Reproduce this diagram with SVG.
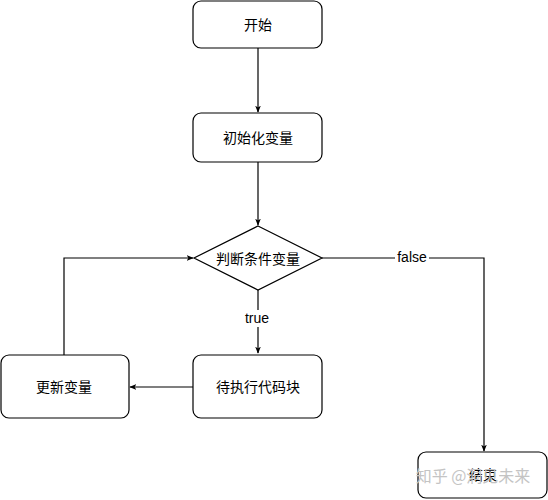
<svg xmlns="http://www.w3.org/2000/svg" width="548" height="500" viewBox="0 0 548 500">
<style>
.box{fill:#fff;stroke:#000;stroke-width:1.2}
.lbl{font-family:"Noto Sans CJK SC","Liberation Sans",sans-serif;font-size:14px;fill:#000;text-anchor:middle;dominant-baseline:central}
.edge{fill:none;stroke:#000;stroke-width:1.2}
.elbl{font-family:"Liberation Sans","Noto Sans CJK SC",sans-serif;font-size:14px;fill:#000;text-anchor:middle;dominant-baseline:central}
.wm{font-family:"Noto Sans CJK SC",sans-serif;font-size:16px;fill:#c4c4c4;text-anchor:middle;dominant-baseline:central}
</style>
<defs>
<marker id="arr" viewBox="0 0 10 10" refX="9" refY="5" markerWidth="7" markerHeight="7" orient="auto" markerUnits="userSpaceOnUse">
<path d="M0,1 L10,5 L0,9 L2.5,5 Z" fill="#000"/>
</marker>
</defs>
<rect width="548" height="500" fill="#fff"/>
<g id="connectors">
<path class="edge" d="M258,48 V112" marker-end="url(#arr)"/>
<path class="edge" d="M258,162 V225" marker-end="url(#arr)"/>
<path class="edge" d="M258,290 V353" marker-end="url(#arr)"/>
<path class="edge" d="M193,387 H130" marker-end="url(#arr)"/>
<path class="edge" d="M64,355 V258 H193" marker-end="url(#arr)"/>
<path class="edge" d="M322,258 H484 V451" marker-end="url(#arr)"/>
<rect x="243" y="310" width="30" height="17" fill="#fff"/>
<text class="elbl" x="257" y="318">true</text>
<rect x="395" y="249" width="34" height="17" fill="#fff"/>
<text class="elbl" x="412" y="257">false</text>
</g>
<g id="start">
<rect class="box" x="193" y="1" width="129" height="47" rx="8"/>
<text class="lbl" x="258" y="24">开始</text>
</g>
<g id="init">
<rect class="box" x="193" y="113" width="129" height="49" rx="8"/>
<text class="lbl" x="258" y="137">初始化变量</text>
</g>
<g id="cond">
<polygon class="box" points="258,226 322,258 258,290 194,258"/>
<text class="lbl" x="258" y="258">判断条件变量</text>
</g>
<g id="exec">
<rect class="box" x="193" y="355" width="129" height="63" rx="8"/>
<text class="lbl" x="258" y="386">待执行代码块</text>
</g>
<g id="update">
<rect class="box" x="1" y="355" width="128" height="63" rx="8"/>
<text class="lbl" x="64" y="386">更新变量</text>
</g>
<g id="end">
<rect class="box" x="418" y="452" width="129" height="46" rx="8"/>
<text class="lbl" x="483" y="474">结束</text>
</g>
<text class="wm" x="473" y="475">知乎 @洞见未来</text>
</svg>
